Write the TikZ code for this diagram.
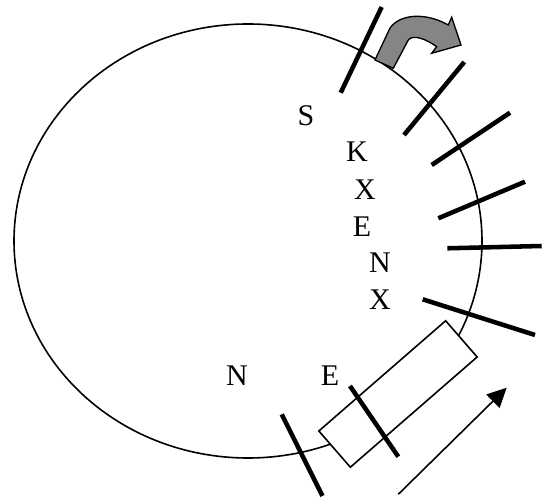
\documentclass[tikz,border=0pt]{standalone}
\usepackage{fontspec}
\setmainfont{Liberation Serif}
\usetikzlibrary{arrows.meta, positioning}
\tikzset{
  letter/.style = {inner sep=0pt, font=\fontsize{22.5}{26}\selectfont},
  site/.style   = {line width=3.4pt},
  frame/.style  = {rectangle, draw, fill=white, line width=1.2pt,
                   minimum width=126pt, minimum height=36pt},
  turn/.style   = {draw, line width=1pt, fill=black!48},
  flow/.style   = {-{Triangle[length=14.5pt, width=14pt]}, line width=1.2pt},
}
\begin{document}
\begin{tikzpicture}[x=0.75pt, y=-0.75pt]
  \useasboundingbox (0,0) rectangle (551,498);

  % ---- ring ----
  \draw[line width=1.2pt] (248,241) ellipse [x radius=234, y radius=217];

  % ---- insert box (covers the ring) ----
  \node[frame, rotate=41] (box) at (398,394) {};

  % ---- restriction sites ----
  \foreach \xa/\ya/\xb/\yb in {381.7/7/340.7/92.7, 464.3/62/404/135,
                               510/112.7/431.7/165, 525/181.7/438.3/218.3,
                               541.7/246/447.3/248.3, 422.7/299.3/535/335,
                               350/386/398.3/456.7, 281.7/414.3/322.5/496}
    \draw[site] (\xa,\ya) -- (\xb,\yb);

  % ---- promoter arrow ----
  \draw[turn] (375,60) -- (390,28)
    .. controls (400,14) and (425,12) .. (448.3,25)
    -- (451.7,17.3) -- (461,45) -- (431.7,53.3) -- (436.7,46.7)
    .. controls (426,39) and (413,34) .. (408.3,40)
    -- (393.3,68.3) -- cycle;

  % ---- labels ----
  \node[letter] (s)  at (306,116) {S};
  \node[letter] (k)  at (357,152) {K};
  \node[letter] (x1) at (365,190) {X};
  \node[letter] (e1) at (362,227) {E};
  \node[letter] (n1) at (380,263) {N};
  \node[letter] (x2) at (380,300) {X};
  \node[letter] (n2) at (237,376) {N};
  \node[letter] (e2) at (330,376) {E};

  % ---- direction arrow ----
  \coordinate (tail) at (398.3,494.3);
  \coordinate (head) at (506.7,387.7);
  \draw[flow] (tail) -- (head);
\end{tikzpicture}
\end{document}
